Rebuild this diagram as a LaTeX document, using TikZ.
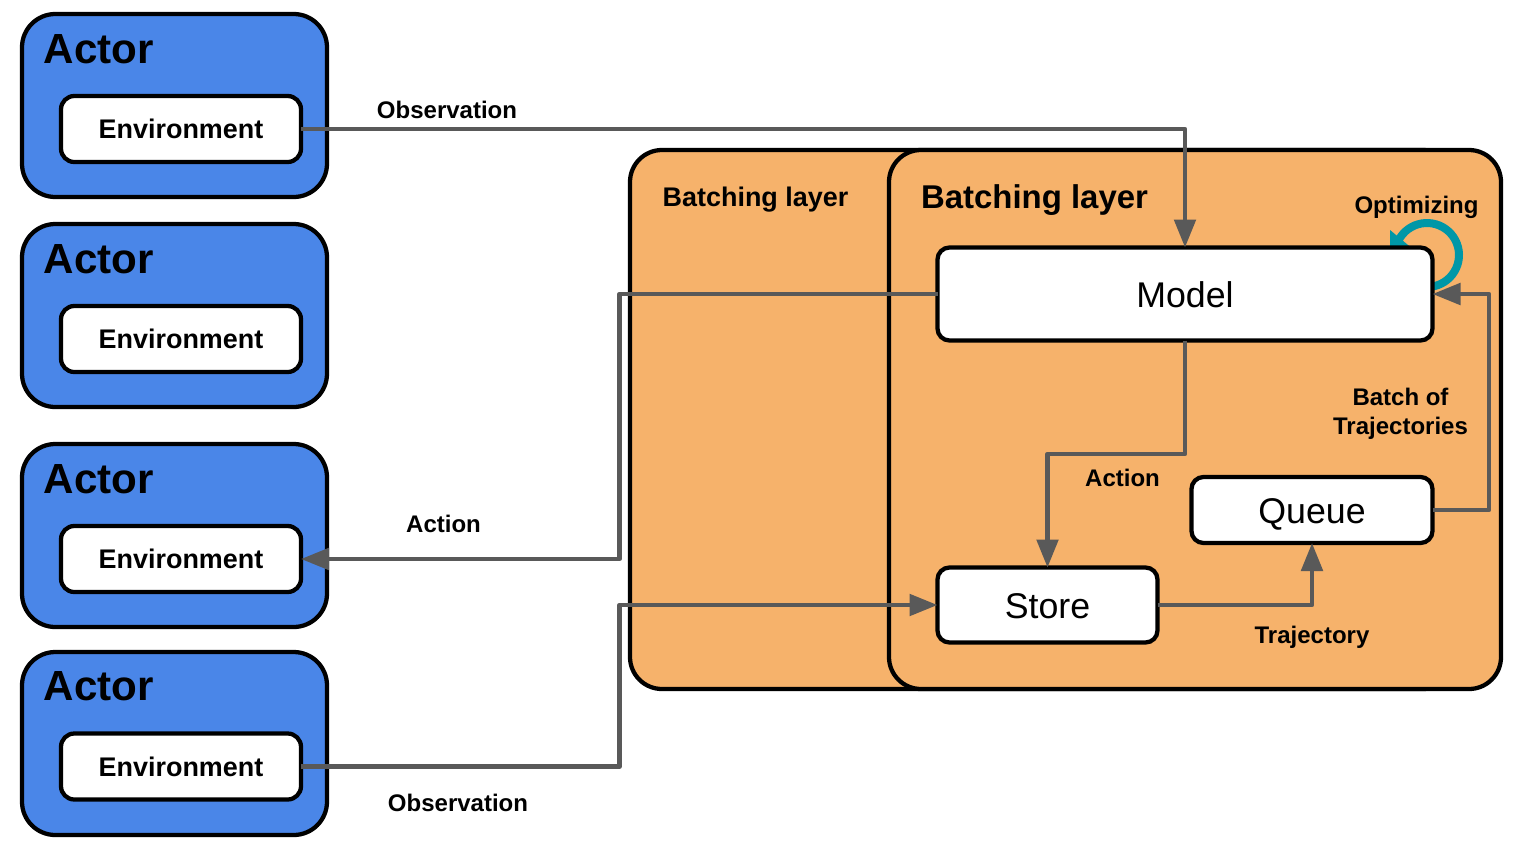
\documentclass[tikz,border=0pt]{standalone}
\usepackage{fontspec}
\setmainfont{Liberation Sans}
\usetikzlibrary{arrows.meta}
\definecolor{actorblue}{HTML}{4A86E8}
\definecolor{layerorange}{HTML}{F6B26B}
\definecolor{linkgray}{HTML}{595959}
\definecolor{loopteal}{HTML}{0097A7}
\newcommand{\fs}[1]{\fontsize{#1}{#1}\selectfont}
\tikzset{
  x=0.75pt,y=-0.75pt,
  box/.style={draw=black,line width=3.2pt,outer sep=0pt,inner sep=0pt,rectangle},
  actorbox/.style={box,fill=actorblue,rounded corners=25pt,minimum width=228.75pt,minimum height=137.25pt},
  envbox/.style={box,fill=white,rounded corners=10pt,minimum width=180pt,minimum height=49.5pt,font=\fs{20.2}\bfseries,text height=14.75pt,text depth=0pt},
  layerbox/.style={box,fill=layerorange,rounded corners=24pt,minimum height=404.25pt},
  whitebox/.style={box,fill=white,rounded corners=9pt,font=\fs{26.8},text height=19.75pt,text depth=0pt},
  actortitle/.style={anchor=base,inner sep=0pt,font=\fs{31.6}\bfseries},
  lbl/.style={anchor=base,inner sep=0pt,font=\fs{18}\bfseries},
  link/.style={draw=linkgray,line width=3.2pt,line join=round},
  arrowlink/.style={link,-{Triangle[length=21pt,width=16pt]}},
}
\begin{document}
\begin{tikzpicture}
\useasboundingbox (0,0) rectangle (1525,854);
% actors
\node[actorbox] (actor1) at (174.5,105.5) {};
\node[actorbox] (actor2) at (174.5,315.5) {};
\node[actorbox] (actor3) at (174.5,535.5) {};
\node[actorbox] (actor4) at (174.5,743.5) {};
\node[actortitle] (t1) at (99,63) {Actor};
\node[actortitle] (t2) at (99,273) {Actor};
\node[actortitle] (t3) at (99,493) {Actor};
\node[actortitle] (t4) at (99,700) {Actor};
\node[envbox] (env1) at (181,129) {Environment};
\node[envbox] (env2) at (181,339) {Environment};
\node[envbox] (env3) at (181,559) {Environment};
\node[envbox] (env4) at (181,766.5) {Environment};
% layers
\node[layerbox,minimum width=618.75pt] (back) at (1042.5,419.5) {};
\node[layerbox,minimum width=459pt] (front) at (1195,419.5) {};
\node[anchor=base,inner sep=0pt,font=\fs{20.2}\bfseries] (bl1) at (755.5,206.5) {Batching layer};
\node[anchor=base,inner sep=0pt,font=\fs{24.7}\bfseries] (bl2) at (1034.5,208) {Batching layer};
% optimizing loop
\draw[loopteal,line width=6pt] plot[domain=-90:165,samples=40] ({1427+32*cos(\x)},{255-32*sin(\x)});
\fill[loopteal] (1390,230) -- (1390,256) -- (1414,250) -- cycle;
% inner boxes
\node[whitebox,minimum width=371.25pt,minimum height=69.75pt] (model) at (1185,294) {Model};
\node[whitebox,minimum width=165pt,minimum height=56.25pt] (store) at (1047.5,605) {Store};
\node[whitebox,minimum width=180.75pt,minimum height=49.5pt,text height=19.5pt] (queue) at (1312,510) {Queue};
% helpers
\coordinate (c1) at (619.5,430);
\coordinate (c2) at (1100,454);
\coordinate (c3) at (1489,400);
\coordinate (c4) at (619.5,700);
% connectors
\draw[arrowlink] (env1.east) -| (model.north);
\draw[arrowlink] (model.west) -| (c1) |- (env3.east);
\draw[arrowlink] (env4.east) -| (c4) |- (store.west);
\draw[arrowlink] (model.south) |- (c2) -| (store.north);
\draw[arrowlink] (store.east) -| (queue.south);
\draw[arrowlink] (queue.east) -| (c3) |- (model.east);
% labels
\node[lbl] (l1) at (447,118) {Observation};
\node[lbl] (l2) at (443.5,532) {Action};
\node[lbl] (l3) at (458,811) {Observation};
\node[lbl] (l4) at (1122.5,486) {Action};
\node[lbl] (l5) at (1312,643) {Trajectory};
\node[lbl] (l6) at (1400.5,405) {Batch of};
\node[lbl] (l7) at (1400.5,434) {Trajectories};
\node[lbl] (l8) at (1416.5,213) {Optimizing};
\end{tikzpicture}
\end{document}
